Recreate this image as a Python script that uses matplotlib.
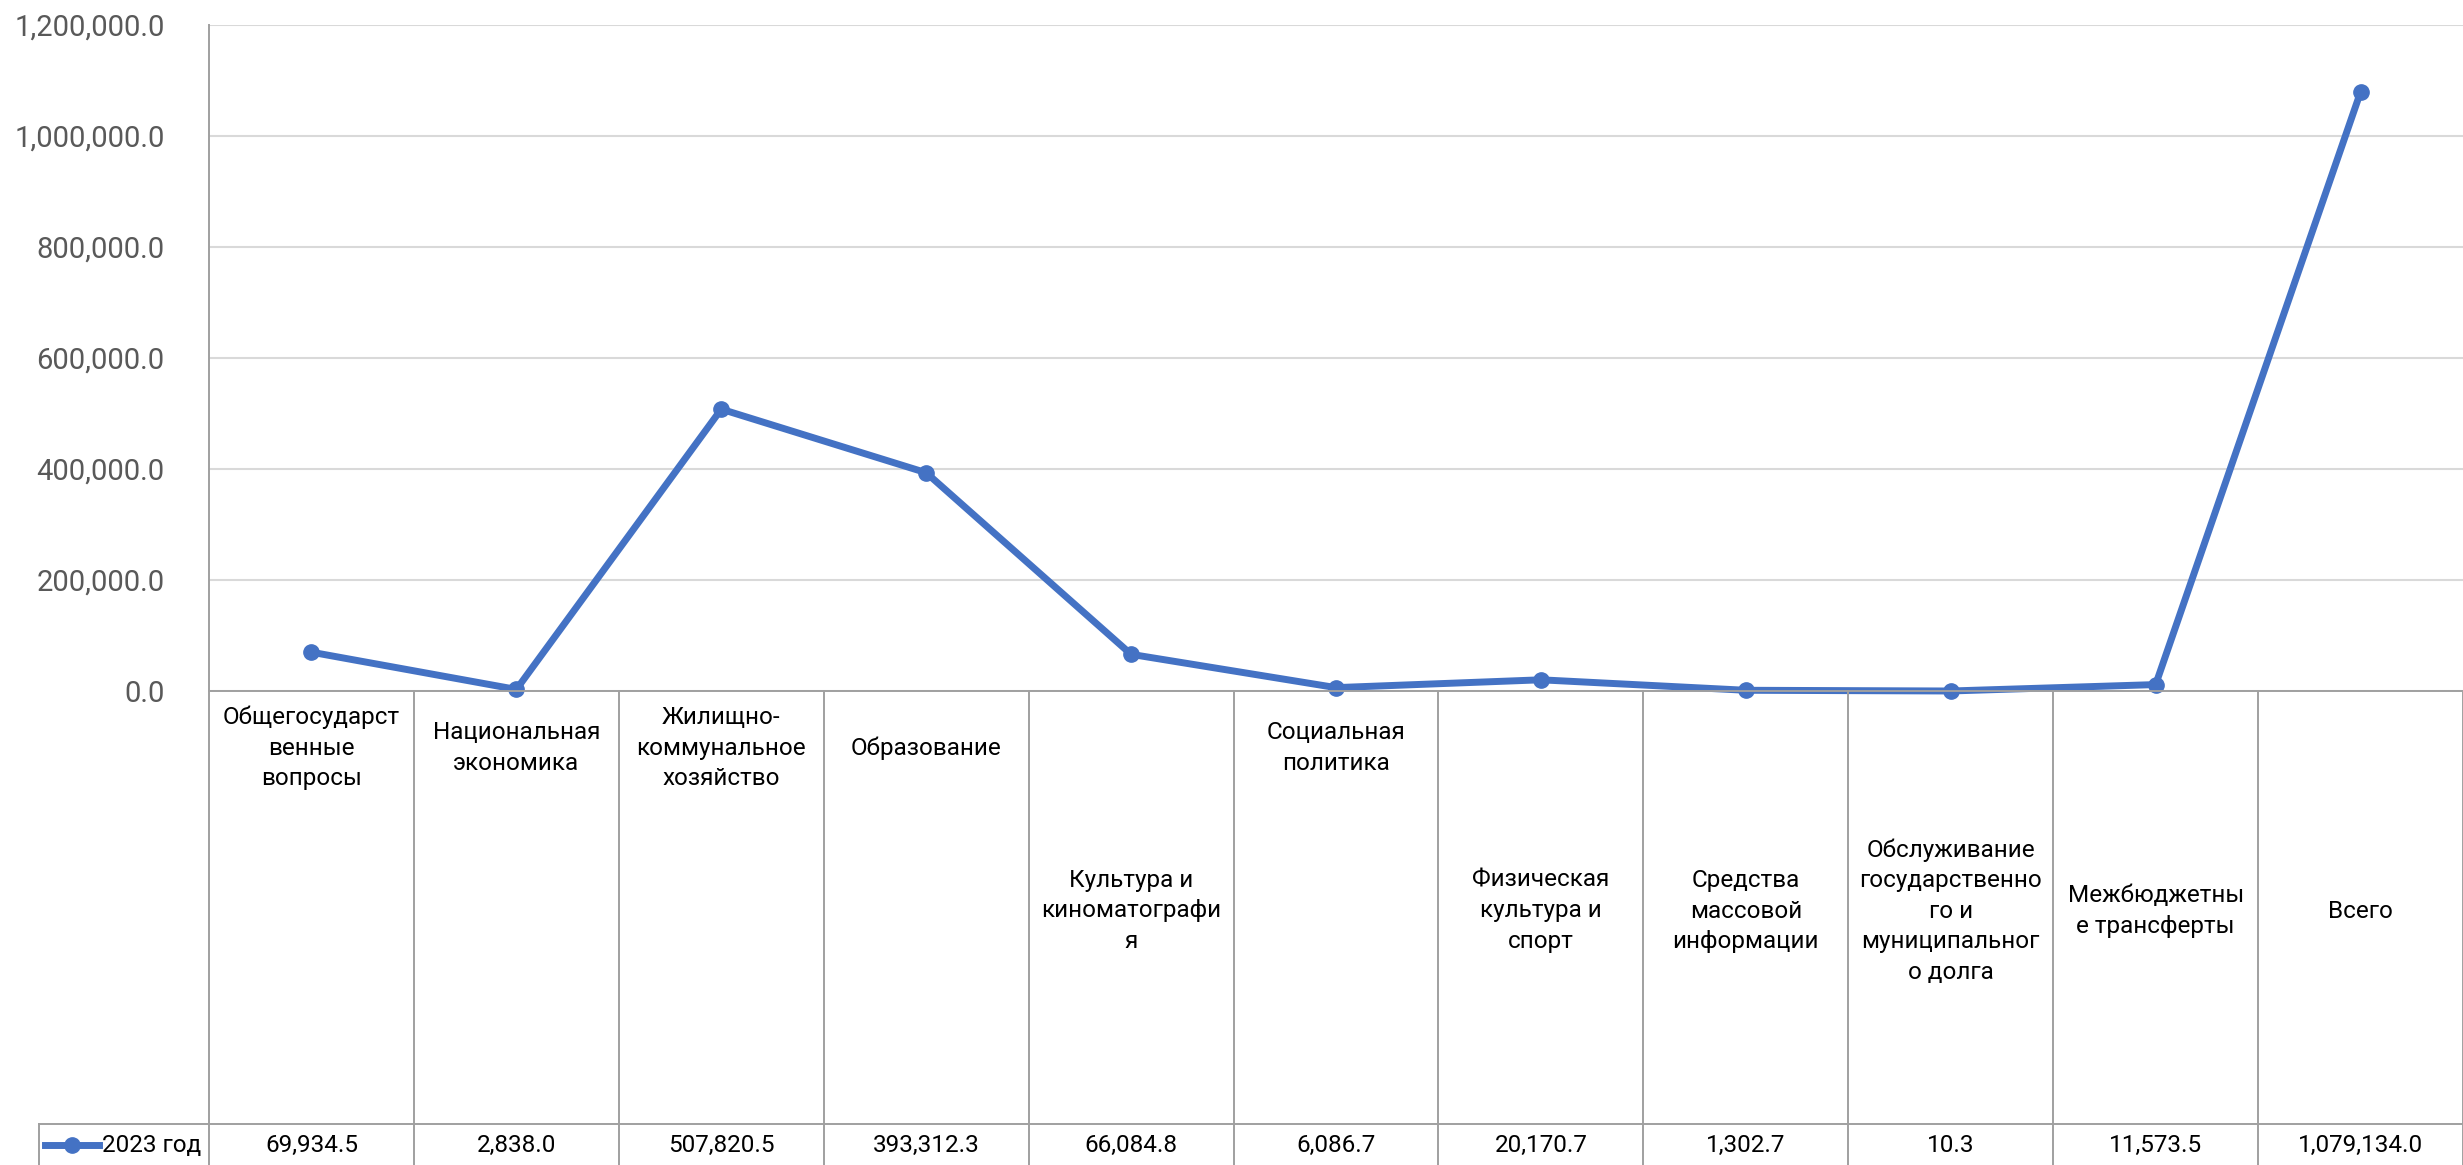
import matplotlib
matplotlib.use("Agg")
import matplotlib.pyplot as plt
import matplotlib.transforms as mtransforms
from matplotlib.ticker import FuncFormatter, MultipleLocator
from matplotlib.lines import Line2D

categories = [
    "Общегосударст\nвенные\nвопросы",
    "Национальная\nэкономика",
    "Жилищно-\nкоммунальное\nхозяйство",
    "Образование",
    "Культура и\nкиноматографи\nя",
    "Социальная\nполитика",
    "Физическая\nкультура и\nспорт",
    "Средства\nмассовой\nинформации",
    "Обслуживание\nгосударственно\nго и\nмуниципальног\nо долга",
    "Межбюджетны\nе трансферты",
    "Всего",
]
values_2023 = [69934.5, 2838.0, 507820.5, 393312.3, 66084.8, 6086.7,
               20170.7, 1302.7, 10.3, 11573.5, 1079134.0]
series_name = "2023 год"
y_max = 1200000
y_step = 200000

# label row placement (0 = upper band, 1 = lower band), as in the picture
label_band = [0, 0, 0, 0, 1, 0, 1, 1, 1, 1, 1]

W, H = 2463, 1165
plt.rcParams['font.family'] = ['Roboto', 'DejaVu Sans']
fig = plt.figure(figsize=(W / 100, H / 100), dpi=100)

ax_left, ax_right, ax_top, ax_bottom = 209, W, 25, 691
ax = fig.add_axes([ax_left / W, 1 - ax_bottom / H, (ax_right - ax_left) / W, (ax_bottom - ax_top) / H])

blue = "#4472C4"
grid_c = "#D9D9D9"
tab_c = "#A0A0A0"
lw_line = 5.0
ms_marker = 11
x = list(range(len(categories)))
ax.plot(x, values_2023, color=blue, lw=lw_line, marker='o', ms=ms_marker, zorder=3,
        clip_on=False, solid_joinstyle='round', solid_capstyle='round')

ax.set_xlim(-0.5, len(categories) - 0.5)
ax.set_ylim(0, y_max)
ax.yaxis.set_major_locator(MultipleLocator(y_step))
ax.yaxis.set_major_formatter(FuncFormatter(lambda v, p: f"{v:,.1f}"))
ax.tick_params(axis='y', length=0, pad=32, labelsize=21, labelcolor="#595959")
ax.tick_params(axis='x', length=0, labelbottom=False)
ax.grid(axis='y', color=grid_c, lw=1.5)
ax.set_axisbelow(True)
for s in ['top', 'right', 'bottom']:
    ax.spines[s].set_visible(False)
ax.spines['left'].set_color(tab_c)
ax.spines['left'].set_linewidth(1.4)

# transform: x in data units, y in pixels from top of figure
topdown = mtransforms.Affine2D().scale(1, -1).translate(0, H)
tr = mtransforms.blended_transform_factory(ax.transData, topdown)
pix = topdown  # pixels from top-left

row_line = 1124
# horizontal lines
fig.add_artist(Line2D([ax_left, W], [ax_bottom, ax_bottom], transform=pix, color=tab_c, lw=1.4))
fig.add_artist(Line2D([39, W], [row_line, row_line], transform=pix, color=tab_c, lw=1.4))
# vertical lines
for k in range(len(categories) + 1):
    fig.add_artist(Line2D([k - 0.5, k - 0.5], [ax_bottom, H], transform=tr, color=tab_c, lw=1.4))
fig.add_artist(Line2D([39, 39], [row_line, H], transform=pix, color=tab_c, lw=1.4))

band_y = [748, 911]
for i, (cat, v) in enumerate(zip(categories, values_2023)):
    fig.text(i, band_y[label_band[i]], cat, transform=tr, ha='center', va='center',
             fontsize=17.5, linespacing=1.42, color='black')
    fig.text(i, 1145, f"{v:,.1f}", transform=tr, ha='center', va='center',
             fontsize=17.5, color='black')

# legend key in table
fig.add_artist(Line2D([45, 99], [1145, 1145], transform=pix, color=blue, lw=lw_line))
fig.add_artist(Line2D([72], [1145], transform=pix, color=blue, marker='o', ms=ms_marker))
fig.text(102, 1145, series_name, transform=pix, ha='left', va='center', fontsize=17.5, color='black')

fig.savefig("out.png", dpi=100)
